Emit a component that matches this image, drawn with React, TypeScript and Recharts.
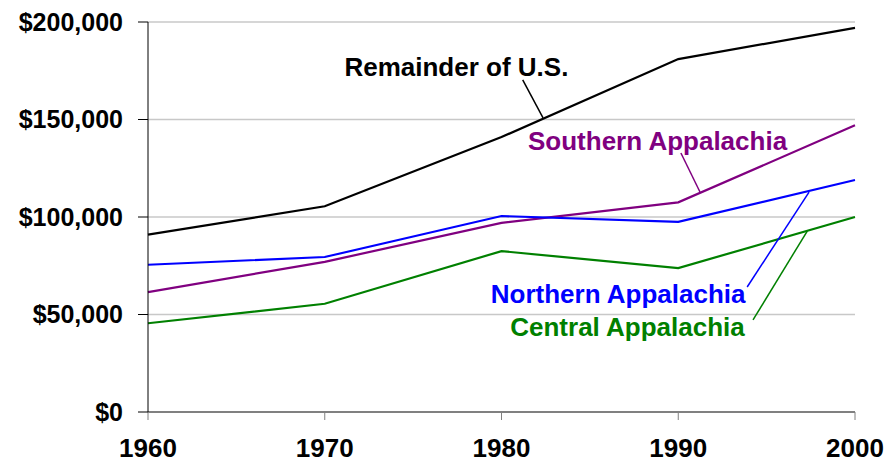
import { LineChart, Line, XAxis, YAxis, CartesianGrid, ReferenceLine, ReferenceDot } from 'recharts';

const years = [1960, 1970, 1980, 1990, 2000];
const remainderUS = [91000, 105500, 141000, 181000, 197000];
const southern = [61500, 77000, 97000, 107500, 147000];
const northern = [75500, 79500, 100500, 97500, 119000];
const central = [45500, 55500, 82500, 73800, 100000];

const yTicks = [0, 50000, 100000, 150000, 200000];

// annotation labels: [text, year, value, colour]
const labels: [string, number, number, string][] = [
  ['Remainder of U.S.', 1977.45, 176900, '#000000'],
  ['Southern Appalachia', 1988.83, 139000, '#800080'],
  ['Northern Appalachia', 1986.6, 60500, '#0000ff'],
  ['Central Appalachia', 1987.13, 43600, '#008000'],
];

// leader lines: [x1, y1, x2, y2, colour]
const leaders: [number, number, number, number, string][] = [
  [1981.2, 170300, 1982.35, 150800, '#000000'],
  [1990.15, 132800, 1991.23, 112800, '#800080'],
  [1993.9, 64100, 1997.4, 112800, '#0000ff'],
  [1994.23, 47200, 1997.3, 92800, '#008000'],
];

const data = years.map((year, i) => ({
  year,
  remainder: remainderUS[i],
  southern: southern[i],
  northern: northern[i],
  central: central[i],
}));

const font = '"Liberation Sans", Arial, sans-serif';

const makeLabel = (text: string, color: string) => (props: any) => {
  const { viewBox } = props;
  const cx = viewBox.x + viewBox.width / 2;
  const cy = viewBox.y + viewBox.height / 2;
  return (
    <text
      x={cx}
      y={cy}
      textAnchor="middle"
      dominantBaseline="central"
      fill={color}
      fontSize={26}
      fontWeight="bold"
      fontFamily={font}
    >
      {text}
    </text>
  );
};

const App = () => {
  return (
    <div style={{ position: 'absolute', left: 0, top: 0 }}>
      <LineChart
        width={886}
        height={464}
        data={data}
        margin={{ top: 22, right: 31, left: 0, bottom: 0 }}
        style={{ fontFamily: font }}
      >
        <CartesianGrid horizontal vertical={false} stroke="#c8c8c8" strokeWidth={1.5} />
        <XAxis
          dataKey="year"
          type="number"
          domain={[1960, 2000]}
          ticks={years}
          height={52}
          axisLine={{ stroke: '#808080', strokeWidth: 2 }}
          tickLine={{ stroke: '#808080', strokeWidth: 1 }}
          tickSize={8}
          tickMargin={19}
          tick={{ fontSize: 26, fontWeight: 'bold', fill: '#000', fontFamily: font }}
        />
        <YAxis
          type="number"
          domain={[0, 200000]}
          ticks={yTicks}
          width={148}
          axisLine={{ stroke: '#000', strokeWidth: 1 }}
          tickLine={{ stroke: '#000', strokeWidth: 1 }}
          tickSize={10}
          tickMargin={15}
          tick={{ fontSize: 25, fontWeight: 'bold', fill: '#000', fontFamily: font }}
          tickFormatter={(v: number) => '$' + v.toLocaleString('en-US')}
        />
        <Line dataKey="remainder" stroke="#000000" strokeWidth={2.2} dot={false} isAnimationActive={false} />
        <Line dataKey="southern" stroke="#800080" strokeWidth={2.2} dot={false} isAnimationActive={false} />
        <Line dataKey="northern" stroke="#0000ff" strokeWidth={2.2} dot={false} isAnimationActive={false} />
        <Line dataKey="central" stroke="#008000" strokeWidth={2.2} dot={false} isAnimationActive={false} />
        {leaders.map(([x1, y1, x2, y2, color], i) => (
          <ReferenceLine
            key={'l' + i}
            segment={[{ x: x1, y: y1 }, { x: x2, y: y2 }]}
            stroke={color}
            strokeWidth={1.5}
          />
        ))}
        {labels.map(([text, x, y, color], i) => (
          <ReferenceDot
            key={'t' + i}
            x={x}
            y={y}
            r={1}
            fill="none"
            stroke="none"
            label={makeLabel(text, color)}
          />
        ))}
      </LineChart>
    </div>
  );
};

export default App;
